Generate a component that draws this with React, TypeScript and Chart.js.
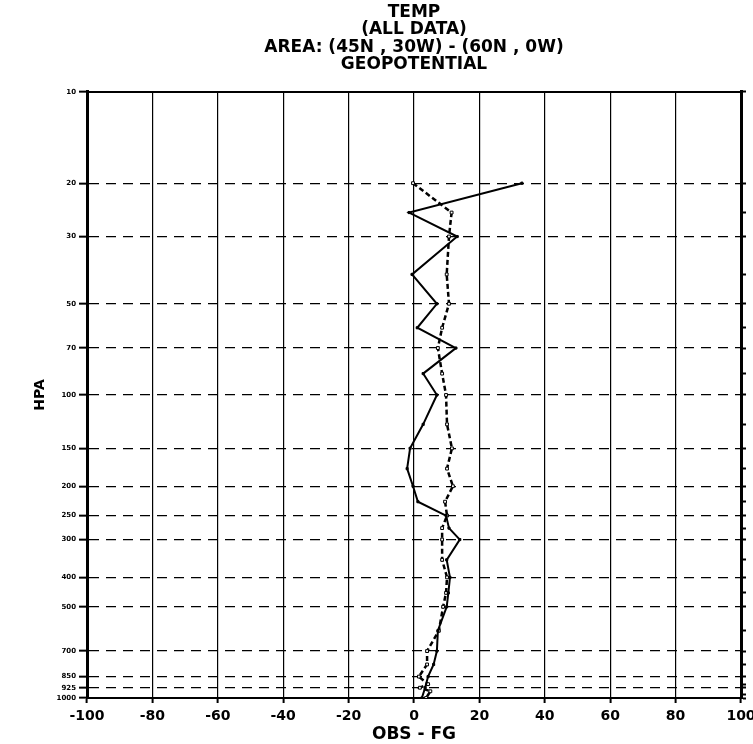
import React, { useEffect, useRef } from 'react';
import { Chart, registerables } from 'chart.js';

Chart.register(...registerables);

const TITLE_LINES = ['TEMP', '(ALL DATA)', 'AREA: (45N , 30W) - (60N , 0W)', 'GEOPOTENTIAL'];
const X_TITLE = 'OBS - FG';
const Y_TITLE = 'HPA';

// Labelled pressure levels (left axis) and all tick levels (right axis)
const PRESSURE_LABELS = [10, 20, 30, 50, 70, 100, 150, 200, 250, 300, 400, 500, 700, 850, 925, 1000];
const PRESSURE_TICKS = [10, 20, 25, 30, 40, 50, 60, 70, 85, 100, 125, 150, 175, 200, 225, 250, 275, 300, 350, 400, 450, 500, 600, 700, 775, 850, 900, 925, 975, 1000];

// Data levels (hPa)
const LEVELS = [20, 25, 30, 40, 50, 60, 70, 85, 100, 125, 150, 175, 200, 225, 250, 275, 300, 350, 400, 450, 500, 600, 700, 775, 850, 900, 925, 950, 1000];
// Solid curve (OBS - FG)
const SOLID = [33, -1.5, 13.2, -0.6, 7, 1, 12.8, 2.8, 7, 2.8, -1.2, -2.1, -0.3, 1.2, 9.8, 10.7, 14, 10, 11, 10.5, 10, 7.3, 7, 6, 4.3, null, 3.4, null, 2.4];
// Dashed curve
const DASHED = [-0.3, 11.5, 10.7, 10, 10.7, 8.6, 7.3, 8.6, 9.8, 10.1, 11.6, 10.1, 11.9, 9.5, 10.1, 8.6, 8.6, 8.6, 10.1, 9.8, 8.9, 7.6, 4, 4, 1.5, 4.3, 1.8, 5, 3.7];

const X_MIN = -100;
const X_MAX = 100;
const X_STEP = 20;

const FONT = 'DejaVu Sans';

function toPoints(values: (number | null)[]) {
  const pts: { x: number; y: number }[] = [];
  values.forEach((v, i) => {
    if (v !== null && v !== undefined) pts.push({ x: v, y: LEVELS[i] });
  });
  return pts;
}

export default function App() {
  const canvasRef = useRef<HTMLCanvasElement | null>(null);

  useEffect(() => {
    if (!canvasRef.current) return;
    const chart = new Chart(canvasRef.current, {
      type: 'scatter',
      data: {
        datasets: [
          {
            label: 'solid',
            data: toPoints(SOLID),
            showLine: true,
            borderColor: '#000',
            backgroundColor: '#000',
            borderWidth: 2,
            pointStyle: 'rect',
            pointRadius: 1.5,
            pointBorderWidth: 1,
            xAxisID: 'x',
            yAxisID: 'y',
          },
          {
            label: 'dashed',
            data: toPoints(DASHED),
            showLine: true,
            borderColor: '#000',
            backgroundColor: '#fff',
            borderWidth: 2.5,
            borderDash: [5, 3],
            pointStyle: 'rect',
            pointRadius: 2,
            pointBorderWidth: 1,
            xAxisID: 'x',
            yAxisID: 'y',
          },
        ],
      },
      options: {
        animation: false,
        responsive: true,
        maintainAspectRatio: false,
        events: [],
        layout: { padding: 0 },
        plugins: {
          legend: { display: false },
          tooltip: { enabled: false },
          title: {
            display: true,
            fullSize: false,
            text: TITLE_LINES,
            color: '#000',
            font: { family: FONT, size: 17, weight: 'bold', lineHeight: 1.02 },
            padding: { top: 4, bottom: 18.6 },
          },
        },
        scales: {
          x: {
            type: 'linear',
            position: 'bottom',
            min: X_MIN,
            max: X_MAX,
            afterBuildTicks: (s: any) => {
              const t: any[] = [];
              for (let v = X_MIN; v <= X_MAX; v += X_STEP) t.push({ value: v });
              s.ticks = t;
            },
            afterFit: (s: any) => {
              s.height = 46;
              s.paddingLeft = 0;
              s.paddingRight = 0;
            },
            ticks: {
              autoSkip: false,
              maxRotation: 0,
              color: '#000',
              padding: 5,
              font: { family: FONT, size: 14, weight: 'bold' },
              callback: (v: any) => String(v),
            },
            grid: {
              color: (ctx: any) => (ctx.tick && Math.abs(ctx.tick.value) === 100 ? 'rgba(0,0,0,0)' : '#000'),
              lineWidth: 1.2,
              tickLength: 5,
              tickColor: '#000',
              tickWidth: 2,
            },
            border: { display: true, color: '#000', width: 2 },
            title: {
              display: true,
              text: X_TITLE,
              color: '#000',
              font: { family: FONT, size: 17, weight: 'bold', lineHeight: 1 },
              padding: { top: 0, bottom: 1 },
            },
          },
          xTop: {
            type: 'linear',
            position: 'top',
            min: X_MIN,
            max: X_MAX,
            afterFit: (s: any) => {
              s.height = 0;
              s.paddingLeft = 0;
              s.paddingRight = 0;
            },
            ticks: { display: false },
            grid: { drawOnChartArea: false, drawTicks: false },
            border: { display: true, color: '#000', width: 2 },
          },
          y: {
            type: 'logarithmic',
            position: 'left',
            reverse: true,
            min: 10,
            max: 1000,
            afterBuildTicks: (s: any) => {
              s.ticks = PRESSURE_LABELS.map((v) => ({ value: v }));
            },
            afterFit: (s: any) => {
              s.width = 87;
            },
            ticks: {
              autoSkip: false,
              color: '#000',
              padding: 3,
              font: { family: FONT, size: 7, weight: 'bold' },
              callback: (v: any) => String(v),
            },
            grid: {
              color: (ctx: any) =>
                ctx.tick && (ctx.tick.value === 10 || ctx.tick.value === 1000) ? 'rgba(0,0,0,0)' : '#000',
              lineWidth: 1.3,
              tickLength: 8,
              tickColor: '#000',
              tickWidth: 2,
            },
            border: { display: true, color: '#000', width: 3, dash: [10, 7] },
            title: {
              display: true,
              text: Y_TITLE,
              color: '#000',
              font: { family: FONT, size: 14, weight: 'bold', lineHeight: 1 },
              padding: { top: 33, bottom: 0 },
            },
          },
          yRight: {
            type: 'logarithmic',
            position: 'right',
            reverse: true,
            min: 10,
            max: 1000,
            afterBuildTicks: (s: any) => {
              s.ticks = PRESSURE_TICKS.map((v) => ({ value: v }));
            },
            afterFit: (s: any) => {
              s.width = 12;
            },
            ticks: { display: false, autoSkip: false },
            grid: {
              drawOnChartArea: false,
              drawTicks: true,
              tickLength: 5,
              tickColor: '#000',
              tickWidth: 2,
            },
            border: { display: true, color: '#000', width: 3 },
          },
        },
      } as any,
    });
    return () => chart.destroy();
  }, []);

  return (
    <div style={{ position: 'fixed', left: 0, top: 0, width: 753, height: 744, background: '#fff' }}>
      <canvas ref={canvasRef} />
    </div>
  );
}
